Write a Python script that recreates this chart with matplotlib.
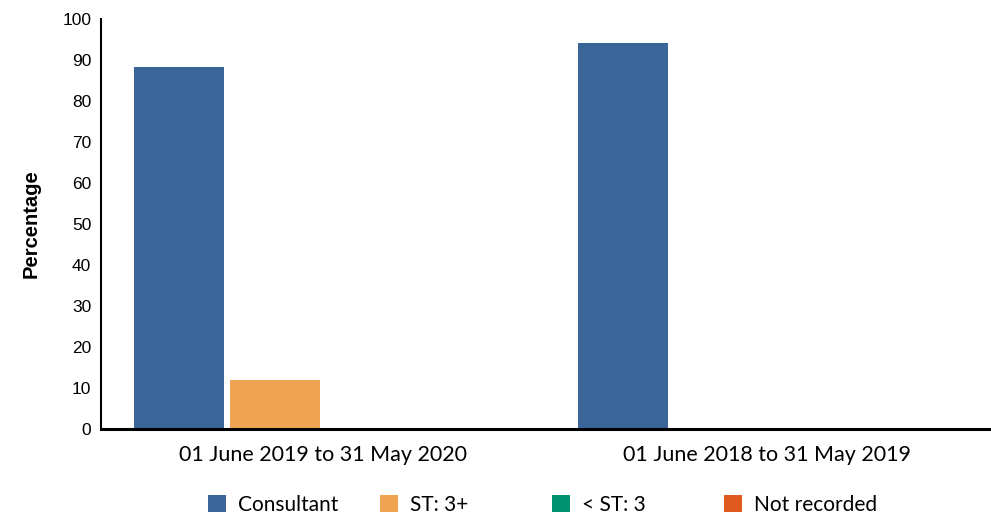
import matplotlib
matplotlib.use('Agg')
import matplotlib.pyplot as plt
import numpy as np

periods = ["01 June 2019 to 31 May 2020", "01 June 2018 to 31 May 2019"]
grades = ["Consultant", "ST: 3+", "< ST: 3", "Not recorded"]
consultant = [88.2, 94.1]
st3plus = [11.8, 0]
below_st3 = [0, 0]
not_recorded = [0, 0]
colors = ["#3A6598", "#F0A452", "#00936F", "#E0591F"]

series = [consultant, st3plus, below_st3, not_recorded]

fig = plt.figure(figsize=(9.91, 5.18), dpi=100)
ax = fig.add_axes([0.102, 0.1724, 0.896, 0.791])

x = np.arange(len(periods))
slot = 0.216
width = 0.203
handles = []
for i, (vals, c) in enumerate(zip(series, colors)):
    b = ax.bar(x + (i - 1.5) * slot, vals, width, color=c, label=grades[i])
    handles.append(b)

ax.set_xlim(-0.5, 1.5)
ax.set_ylim(0, 100)
ax.set_yticks(range(0, 101, 10))
ax.set_xticks(x)
ax.set_xticklabels(periods, fontfamily='Lato', fontsize=15.5)
for lab in ax.get_yticklabels():
    lab.set_fontfamily('Liberation Sans')
    lab.set_fontsize(12.5)
ax.tick_params(axis='y', length=0, pad=7)
ax.tick_params(axis='x', length=0, pad=12)
ax.spines['top'].set_visible(False)
ax.spines['right'].set_visible(False)
ax.spines['left'].set_linewidth(1.5)
ax.spines['bottom'].set_linewidth(2.2)
ax.set_ylabel("Percentage", fontfamily='Liberation Sans', fontweight='bold',
              fontsize=14.5, labelpad=16)

# legend entries spaced evenly along the bottom
for j, h in enumerate(handles):
    fig.legend(handles=[h], labels=[grades[j]], loc='center left',
               bbox_to_anchor=((208 + 172 * j) / 991, 1 - 505 / 518),
               frameon=False, borderpad=0, borderaxespad=0,
               handlelength=0.85, handleheight=0.85, handletextpad=0.6,
               prop={'family': 'Lato', 'size': 15})

plt.savefig('out.png', dpi=100)
